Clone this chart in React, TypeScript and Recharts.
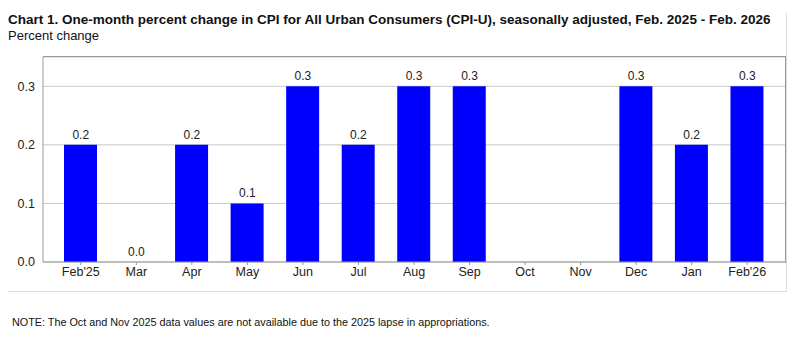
import { ComposedChart, Bar, Line, XAxis, YAxis, CartesianGrid, LabelList } from 'recharts'

const months = ["Feb'25", 'Mar', 'Apr', 'May', 'Jun', 'Jul', 'Aug', 'Sep', 'Oct', 'Nov', 'Dec', 'Jan', "Feb'26"]
const changes: (number | null)[] = [0.2, 0.0, 0.2, 0.1, 0.3, 0.2, 0.3, 0.3, null, null, 0.3, 0.2, 0.3]
const yTicks = [0, 0.1, 0.2, 0.3]

const data = months.map((m, i) => ({ month: m, value: changes[i] }))

const font = '"Liberation Sans", Arial, sans-serif'
const tickStyle = { fontSize: 12.5, fill: '#222', fontFamily: font }

// value above each bar; sits on an invisible line so the zero bar gets one too
function ValueLabel(props: any) {
  const { x, y, value } = props
  if (value === null || value === undefined || y === null || y === undefined) return null
  return (
    <text x={Number(x)} y={Number(y) - 6} textAnchor="middle" fontSize={12} fill="#222" fontFamily={font}>
      {Number(value).toFixed(1)}
    </text>
  )
}

export default function App() {
  return (
    <div style={{ position: 'absolute', left: 0, top: 0, width: 800, height: 351, background: '#fff', fontFamily: font }}>
      <div style={{ position: 'absolute', left: 8, top: 12, fontSize: 13.5, fontWeight: 'bold', color: '#111', whiteSpace: 'nowrap' }}>
        Chart 1. One-month percent change in CPI for All Urban Consumers (CPI-U), seasonally adjusted, Feb. 2025 - Feb. 2026
      </div>
      <div style={{ position: 'absolute', left: 8, top: 28, fontSize: 13, color: '#111' }}>Percent change</div>
      <div style={{ position: 'absolute', left: 786, top: 13, width: 1, height: 279, background: '#ddd' }} />
      <div style={{ position: 'absolute', left: 8, top: 291, width: 779, height: 1, background: '#ddd' }} />
      <div style={{ position: 'absolute', left: 12, top: 316, fontSize: 10.8, color: '#111', whiteSpace: 'nowrap' }}>
        NOTE: The Oct and Nov 2025 data values are not available due to the 2025 lapse in appropriations.
      </div>
      <div style={{ position: 'absolute', left: 0, top: 0 }}>
        <ComposedChart width={800} height={351} data={data} margin={{ top: 57, right: 15, left: 8, bottom: 64 }} barSize={33}>
          <CartesianGrid vertical={false} stroke="#c8c8c8" />
          <XAxis
            dataKey="month"
            height={25}
            tick={tickStyle}
            tickLine={{ stroke: '#999' }}
            tickSize={3}
            axisLine={{ stroke: '#999' }}
            interval={0}
            padding={{ left: 10, right: 10 }}
          />
          {/* top and right edges of the plot frame */}
          <XAxis xAxisId="top" orientation="top" dataKey="month" height={0} tick={false} tickLine={false} axisLine={{ stroke: '#999' }} />
          <YAxis yAxisId="right" orientation="right" width={0} tick={false} tickLine={false} axisLine={{ stroke: '#999' }} />
          <YAxis
            domain={[0, 0.35]}
            ticks={yTicks}
            width={35}
            tick={tickStyle}
            tickFormatter={(v: number) => v.toFixed(1)}
            tickLine={false}
            axisLine={{ stroke: '#999' }}
          />
          <Bar dataKey="value" fill="#0000ff" isAnimationActive={false} />
          <Line dataKey="value" stroke="none" dot={false} activeDot={false} isAnimationActive={false}>
            <LabelList dataKey="value" content={ValueLabel} />
          </Line>
        </ComposedChart>
      </div>
      <div style={{ position: 'absolute', zIndex: 5, left: 43, top: 56, width: 743, height: 1, background: '#999' }} />
      <div style={{ position: 'absolute', zIndex: 5, left: 785, top: 56, width: 1, height: 207, background: '#999' }} />
    </div>
  )
}
